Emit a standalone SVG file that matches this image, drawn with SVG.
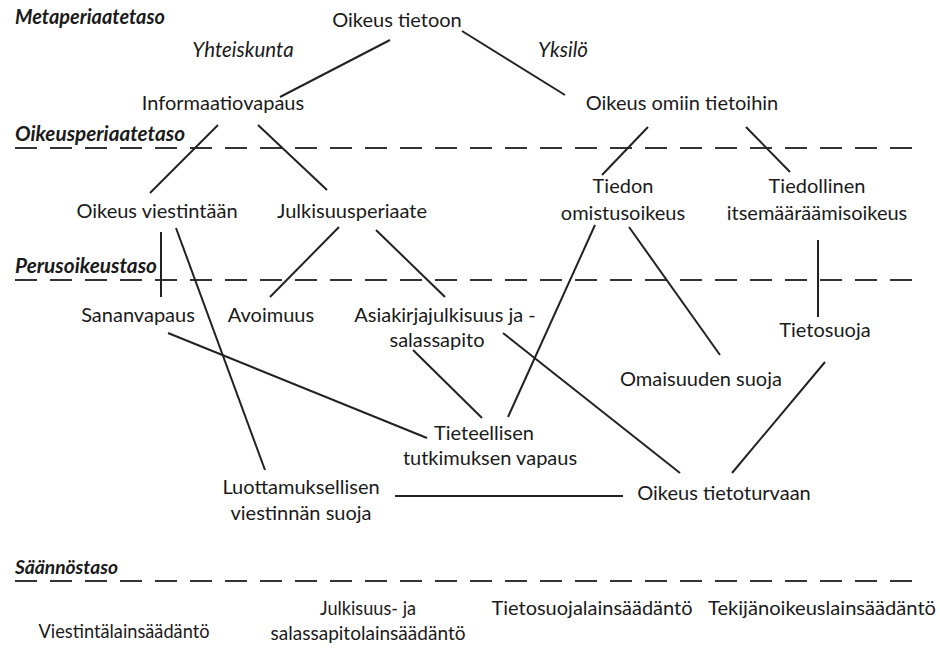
<svg xmlns="http://www.w3.org/2000/svg" width="940" height="651" viewBox="0 0 940 651">
<style>
text{font-family:Lato,"Noto Sans","Liberation Sans",sans-serif;font-size:20px;fill:#1a1a1a;text-anchor:middle}
.lvl{font-weight:bold;font-style:italic;font-size:20px;text-anchor:start}
.lvs{font-weight:bold;font-style:italic;font-size:19px;text-anchor:start}
.it{font-style:italic;font-size:20.5px}
.law{font-size:19px}
.dash{stroke:#333;stroke-width:2;stroke-dasharray:22 13;fill:none}
.c line{stroke:#222;stroke-width:2}
</style>
<rect width="940" height="651" fill="#fff"/>
<g id="levels">
<text class="lvl" x="15" y="24" textLength="150" lengthAdjust="spacingAndGlyphs">Metaperiaatetaso</text>
<text class="lvl" x="15" y="141" textLength="170" lengthAdjust="spacingAndGlyphs">Oikeusperiaatetaso</text>
<line class="dash" x1="15" y1="148" x2="925" y2="148"/>
<text class="lvl" x="15" y="273" textLength="142" lengthAdjust="spacingAndGlyphs">Perusoikeustaso</text>
<line class="dash" x1="15" y1="280" x2="925" y2="280"/>
<text class="lvs" x="15" y="574" textLength="103" lengthAdjust="spacingAndGlyphs">Säännöstaso</text>
<line class="dash" x1="15" y1="581" x2="925" y2="581"/>
</g>
<g class="c" id="connectors">
<line x1="390" y1="40" x2="280" y2="97"/>
<line x1="462" y1="31" x2="565" y2="95"/>
<line x1="218" y1="125" x2="150" y2="193"/>
<line x1="258" y1="125" x2="327" y2="190"/>
<line x1="648" y1="127" x2="602" y2="175"/>
<line x1="746" y1="127" x2="790" y2="172"/>
<line x1="161" y1="232" x2="161" y2="297"/>
<line x1="176" y1="228" x2="265" y2="470"/>
<line x1="339" y1="227" x2="270" y2="297"/>
<line x1="376" y1="230" x2="445" y2="297"/>
<line x1="168" y1="333" x2="427" y2="438"/>
<line x1="413" y1="350" x2="482" y2="418"/>
<line x1="595" y1="225" x2="508" y2="417"/>
<line x1="629" y1="227" x2="720" y2="355"/>
<line x1="503" y1="333" x2="680" y2="473"/>
<line x1="818" y1="240" x2="818" y2="317"/>
<line x1="825" y1="362" x2="732" y2="473"/>
<line x1="395" y1="496" x2="623" y2="496"/>
</g>
<g id="n-oikeus-tietoon"><text x="397" y="27">Oikeus tietoon</text></g>
<g id="n-yhteiskunta"><text class="it" x="243" y="57">Yhteiskunta</text></g>
<g id="n-yksilo"><text class="it" x="563" y="57">Yksilö</text></g>
<g id="n-informaatiovapaus"><text x="223" y="110">Informaatiovapaus</text></g>
<g id="n-oikeus-omiin"><text x="682" y="110">Oikeus omiin tietoihin</text></g>
<g id="n-oikeus-viestintaan"><text x="157" y="218">Oikeus viestintään</text></g>
<g id="n-julkisuusperiaate"><text x="352" y="218">Julkisuusperiaate</text></g>
<g id="n-tiedon"><text x="623" y="193">Tiedon</text><text x="623" y="220">omistusoikeus</text></g>
<g id="n-tiedollinen"><text x="817" y="193">Tiedollinen</text><text x="817" y="220">itsemääräämisoikeus</text></g>
<g id="n-sananvapaus"><text x="138" y="322">Sananvapaus</text></g>
<g id="n-avoimuus"><text x="271" y="322">Avoimuus</text></g>
<g id="n-asiakirja"><text x="445" y="322">Asiakirjajulkisuus ja -</text><text x="437" y="347">salassapito</text></g>
<g id="n-tietosuoja"><text x="825" y="337">Tietosuoja</text></g>
<g id="n-omaisuuden"><text x="701" y="386">Omaisuuden suoja</text></g>
<g id="n-tieteellisen"><text x="484" y="440">Tieteellisen</text><text x="490" y="465">tutkimuksen vapaus</text></g>
<g id="n-luottamuksellisen"><text x="301" y="494">Luottamuksellisen</text><text x="301" y="520">viestinnän suoja</text></g>
<g id="n-tietoturva"><text x="724" y="500">Oikeus tietoturvaan</text></g>
<g id="n-laws">
<text class="law" x="124" y="638" textLength="171" lengthAdjust="spacingAndGlyphs">Viestintälainsäädäntö</text>
<text class="law" x="368" y="615" textLength="96" lengthAdjust="spacingAndGlyphs">Julkisuus- ja</text>
<text class="law" x="368" y="640" textLength="195" lengthAdjust="spacingAndGlyphs">salassapitolainsäädäntö</text>
<text class="law" x="592" y="615" textLength="201" lengthAdjust="spacingAndGlyphs">Tietosuojalainsäädäntö</text>
<text class="law" x="822" y="615" textLength="228" lengthAdjust="spacingAndGlyphs">Tekijänoikeuslainsäädäntö</text>
</g>
</svg>
